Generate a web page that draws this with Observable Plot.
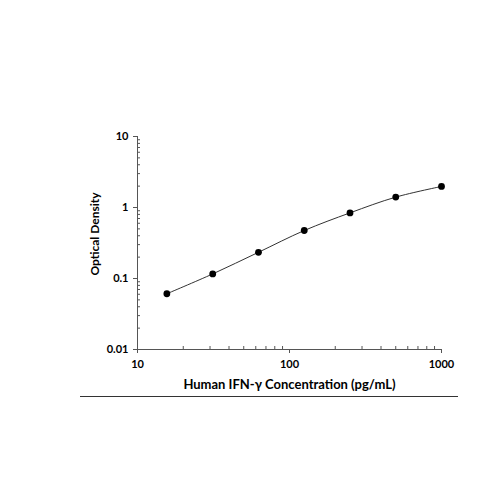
<!DOCTYPE html>
<html><head><meta charset="utf-8">
<script src="https://cdn.jsdelivr.net/npm/d3@7"></script>
<script src="https://cdn.jsdelivr.net/npm/@observablehq/plot@0.6"></script>
<style>body{margin:0;background:#fff}</style>
</head><body><div id="chart"></div>
<script>
const concentration = [15.6, 31.25, 62.5, 125, 250, 500, 1000];
const opticalDensity = [0.061, 0.116, 0.234, 0.474, 0.84, 1.40, 1.98];
const xMajorTicks = [10, 100, 1000];
const xTickLabels = ["10", "100", "1000"];
const yMajorTicks = [0.01, 0.1, 1, 10];
const yTickLabels = ["0.01", "0.1", "1", "10"];
const xMinorTicks = [20, 30, 40, 50, 60, 70, 80, 90, 200, 300, 400, 500, 600, 700, 800, 900];
const yMinorTicks = [0.02, 0.03, 0.04, 0.05, 0.06, 0.07, 0.08, 0.09,
                     0.2, 0.3, 0.4, 0.5, 0.6, 0.7, 0.8, 0.9,
                     2, 3, 4, 5, 6, 7, 8, 9];
const xTitle = "Human IFN-γ Concentration (pg/mL)";
const yTitle = "Optical Density";

const data = concentration.map((c, i) => ({c, od: opticalDensity[i]}));
const W = 500, H = 500, mL = 137, mR = 59, mT = 136, mB = 151;
const frameW = W - mL - mR, frameH = H - mT - mB;
const axisColor = "#555";

const plot = Plot.plot({
  width: W, height: H,
  marginLeft: mL, marginRight: mR, marginTop: mT, marginBottom: mB,
  style: {fontFamily: "Lato, sans-serif", fontSize: "11px", fontWeight: "bold", color: "#000", background: "#fff"},
  x: {type: "log", domain: [10, 1000]},
  y: {type: "log", domain: [0.01, 10]},
  marks: [
    Plot.ruleX(xMinorTicks, {stroke: axisColor, insetTop: frameH - 3}),
    Plot.ruleY(yMinorTicks, {stroke: axisColor, insetRight: frameW - 3}),
    Plot.axisX(xMajorTicks, {tickSize: 4, tickPadding: 7, stroke: axisColor, fill: "#000",
      tickFormat: (d) => xTickLabels[xMajorTicks.indexOf(d)], label: null}),
    Plot.axisY(yMajorTicks, {tickSize: 4, tickPadding: 5, stroke: axisColor, fill: "#000",
      tickFormat: (d) => yTickLabels[yMajorTicks.indexOf(d)], label: null}),
    Plot.frame({anchor: "left", stroke: axisColor}),
    Plot.frame({anchor: "bottom", stroke: axisColor}),
    Plot.line(data, {x: "c", y: "od", curve: "catmull-rom", stroke: "#333", strokeWidth: 1}),
    Plot.dot(data, {x: "c", y: "od", r: 3.4, fill: "#000", stroke: "none"}),
    Plot.text([xTitle], {frameAnchor: "bottom", dy: 39, fontSize: 13, fontWeight: "bold", fill: "#000"}),
    Plot.text([yTitle], {frameAnchor: "left", textAnchor: "middle", dx: -42, dy: -9, rotate: -90, fontSize: 12, fontWeight: "bold", fill: "#000"})
  ]
});
d3.select(plot).append("line")
  .attr("x1", 80).attr("x2", 458).attr("y1", 396.5).attr("y2", 396.5)
  .attr("stroke", "#333").attr("stroke-width", 1);
document.getElementById("chart").appendChild(plot);
</script>
</body></html>
